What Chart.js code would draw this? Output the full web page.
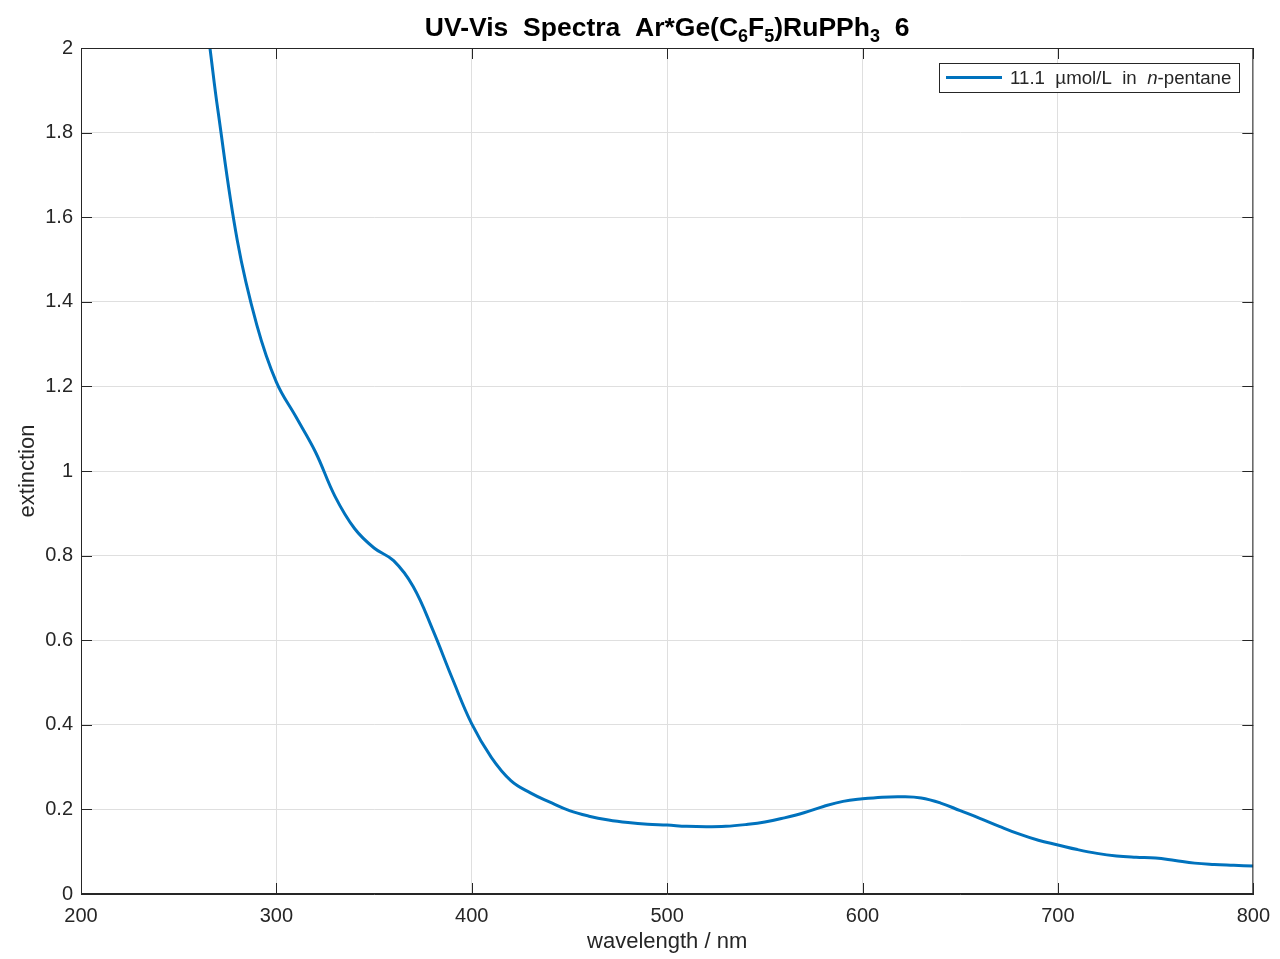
<!DOCTYPE html>
<html lang="en">
<head>
    <meta charset="UTF-8">
    <title>UV-Vis Spectra</title>
    <script src="https://cdn.jsdelivr.net/npm/chart.js"></script>
    <style>
        body { margin: 0; background: #ffffff; }
        #wrap { width: 1280px; height: 959px; }
    </style>
</head>
<body>
<div id="wrap"><canvas id="spectrum"></canvas></div>
<script>
    // wavelength in nm, extinction
    const wavelength = [266, 270, 280, 290, 300, 310, 320, 330, 340, 350, 360, 370, 380, 390, 400, 410, 420, 430,
        440, 450, 460, 470, 480, 490, 500, 510, 520, 530, 540, 550, 560, 570, 580, 590, 600, 610, 620, 630, 640,
        650, 660, 670, 680, 690, 700, 710, 720, 730, 740, 750, 760, 770, 780, 790, 800];
    const extinction = [2.00, 1.855, 1.545, 1.345, 1.21, 1.128, 1.045, 0.94, 0.864, 0.818, 0.788, 0.727, 0.625,
        0.51, 0.402, 0.323, 0.268, 0.239, 0.217, 0.197, 0.184, 0.175, 0.169, 0.165, 0.163, 0.16, 0.159, 0.16, 0.164,
        0.17, 0.18, 0.192, 0.207, 0.219, 0.225, 0.229, 0.23, 0.227, 0.215, 0.197, 0.179, 0.16, 0.142, 0.127, 0.116,
        0.105, 0.096, 0.09, 0.087, 0.085, 0.079, 0.073, 0.07, 0.068, 0.066];
    const xTicks = [200, 300, 400, 500, 600, 700, 800];
    const yTicks = [0, 0.2, 0.4, 0.6, 0.8, 1, 1.2, 1.4, 1.6, 1.8, 2];
    const seriesLabel = ['11.1  \u00b5mol/L  in  ', 'n', '-pentane'];

    const FONT = '"Liberation Sans", Arial, Helvetica, sans-serif';
    const INK = '#262626';
    const BLUE = '#0072bd';

    // title with subscripts, legend box, box outline, inward ticks, axis titles
    const decor = {
        id: 'decor',
        afterDraw(chart) {
            const ctx = chart.ctx;
            const a = chart.chartArea;
            const xs = chart.scales.x, ys = chart.scales.y;
            ctx.save();

            // box
            ctx.strokeStyle = INK;
            ctx.lineWidth = 1;
            ctx.strokeRect(a.left + 0.5, a.top + 0.5, a.right - a.left - 1, a.bottom - a.top - 1);

            // inward ticks
            ctx.beginPath();
            xTicks.forEach(v => {
                const p = Math.round(xs.getPixelForValue(v)) + 0.5;
                ctx.moveTo(p, a.bottom); ctx.lineTo(p, a.bottom - 11);
                ctx.moveTo(p, a.top); ctx.lineTo(p, a.top + 11);
            });
            yTicks.forEach(v => {
                const p = Math.round(ys.getPixelForValue(v)) + 0.5;
                ctx.moveTo(a.left, p); ctx.lineTo(a.left + 11, p);
                ctx.moveTo(a.right, p); ctx.lineTo(a.right - 11, p);
            });
            ctx.stroke();

            // title
            const parts = [['UV-Vis  Spectra  Ar*Ge(C', 0], ['6', 1], ['F', 0], ['5', 1], [')RuPPh', 0], ['3', 1], ['  6', 0]];
            const big = 'bold 26.5px ' + FONT, small = 'bold 18px ' + FONT;
            let w = 0;
            parts.forEach(p => { ctx.font = p[1] ? small : big; w += ctx.measureText(p[0]).width; });
            let x = (a.left + a.right) / 2 - w / 2;
            ctx.fillStyle = '#000000';
            ctx.textBaseline = 'alphabetic';
            ctx.textAlign = 'left';
            parts.forEach(p => {
                ctx.font = p[1] ? small : big;
                ctx.fillText(p[0], x, p[1] ? 42 : 36);
                x += ctx.measureText(p[0]).width;
            });

            // axis titles
            ctx.fillStyle = INK;
            ctx.font = '22px ' + FONT;
            ctx.textAlign = 'center';
            ctx.textBaseline = 'alphabetic';
            ctx.fillText('wavelength / nm', (a.left + a.right) / 2, 948);
            ctx.save();
            ctx.translate(34, (a.top + a.bottom) / 2);
            ctx.rotate(-Math.PI / 2);
            ctx.fillText('extinction', 0, 0);
            ctx.restore();

            // legend
            ctx.fillStyle = '#ffffff';
            ctx.fillRect(939, 63, 300, 29);
            ctx.strokeStyle = INK;
            ctx.lineWidth = 1;
            ctx.strokeRect(939.5, 63.5, 300, 29);
            ctx.strokeStyle = BLUE;
            ctx.lineWidth = 3;
            ctx.beginPath();
            ctx.moveTo(946, 77.5); ctx.lineTo(1002, 77.5);
            ctx.stroke();
            ctx.fillStyle = INK;
            ctx.textAlign = 'left';
            ctx.textBaseline = 'alphabetic';
            let lx = 1010;
            seriesLabel.forEach((s, i) => {
                ctx.font = (i === 1 ? 'italic ' : '') + '18.7px ' + FONT;
                ctx.fillText(s, lx, 84);
                lx += ctx.measureText(s).width;
            });
            ctx.restore();
        }
    };

    const ctx = document.getElementById('spectrum').getContext('2d');
    const spectrumChart = new Chart(ctx, {
        type: 'line',
        data: {
            datasets: [{
                label: seriesLabel.join(''),
                data: wavelength.map((w, i) => ({ x: w, y: extinction[i] })),
                borderColor: BLUE,
                borderWidth: 3,
                pointRadius: 0,
                fill: false,
                tension: 0.4
            }]
        },
        options: {
            responsive: true,
            maintainAspectRatio: false,
            animation: false,
            layout: { padding: { top: 48, right: 26, left: 0, bottom: 0 } },
            plugins: {
                legend: { display: false },
                title: { display: false },
                tooltip: { enabled: false }
            },
            scales: {
                x: {
                    type: 'linear',
                    min: 200,
                    max: 800,
                    afterBuildTicks: s => { s.ticks = xTicks.map(v => ({ value: v })); },
                    afterFit: s => { s.height = 65; },
                    ticks: { color: INK, font: { size: 20, family: FONT }, padding: 10, maxRotation: 0 },
                    grid: { color: '#dfdfdf', drawTicks: false },
                    border: { color: INK }
                },
                y: {
                    min: 0,
                    max: 2,
                    afterBuildTicks: s => { s.ticks = yTicks.map(v => ({ value: v })); },
                    afterFit: s => { s.width = 81; },
                    ticks: {
                        color: INK,
                        font: { size: 20, family: FONT },
                        padding: 8,
                        callback: v => String(+v.toFixed(1))
                    },
                    grid: { color: '#dfdfdf', drawTicks: false },
                    border: { color: INK }
                }
            }
        },
        plugins: [decor]
    });
</script>
</body>
</html>
